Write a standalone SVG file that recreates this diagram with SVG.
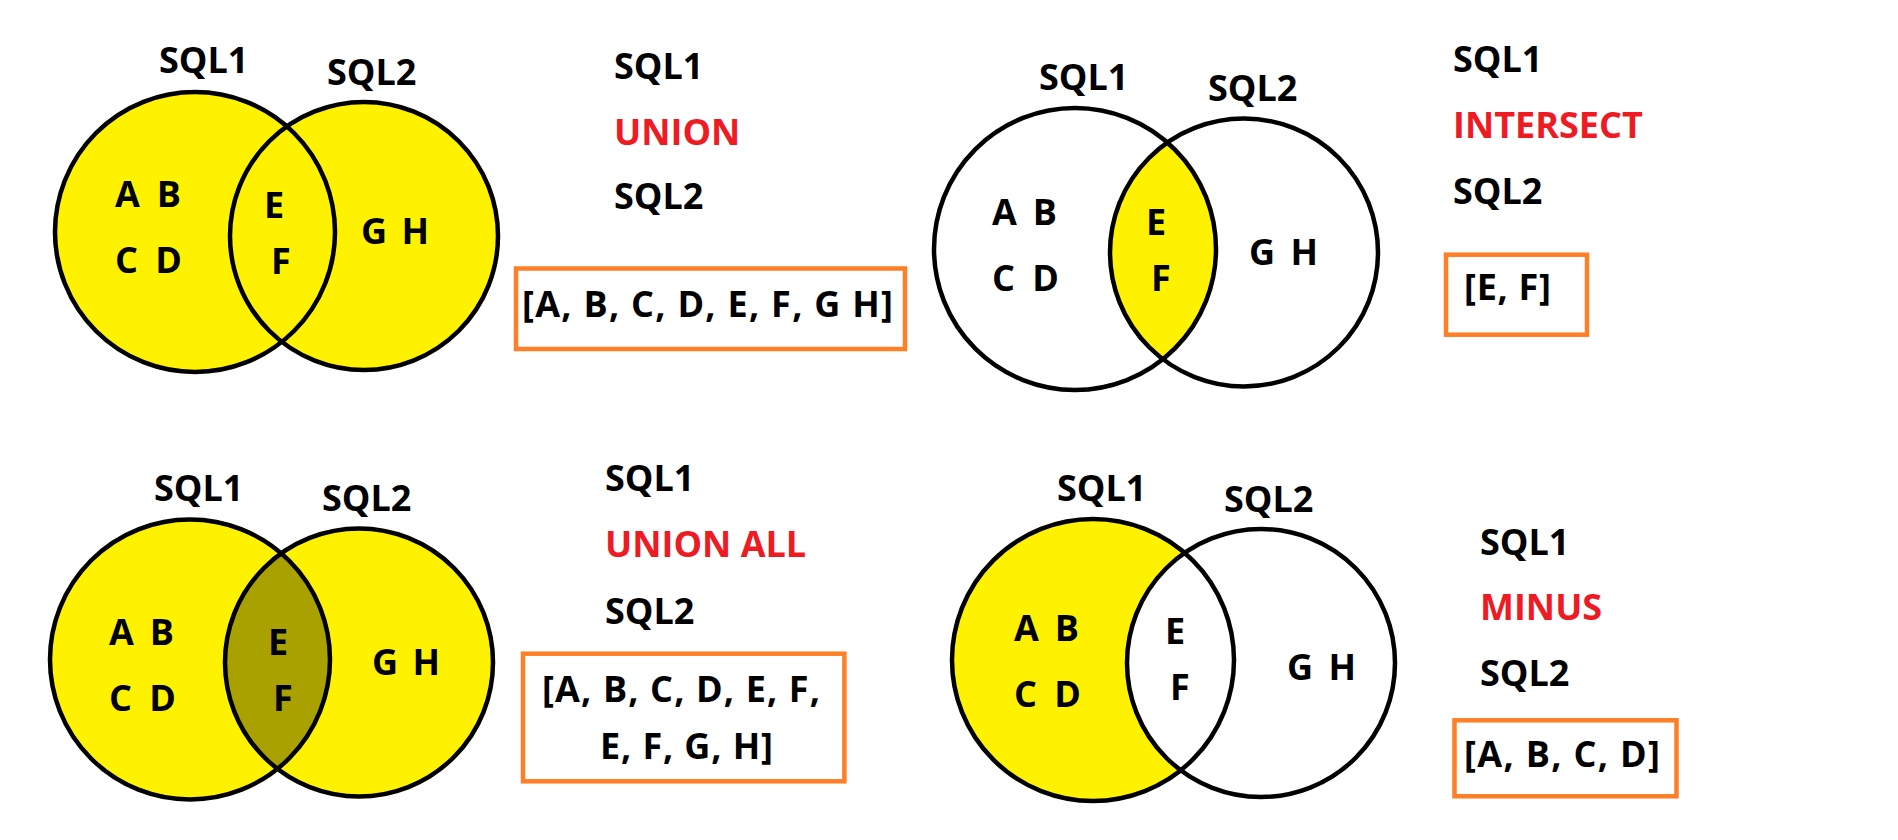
<svg xmlns="http://www.w3.org/2000/svg" width="1898" height="840" viewBox="0 0 1898 840">
  <style>
    text { font-family: "Open Sans", "Noto Sans", "Liberation Sans", sans-serif; font-weight: 700; font-size: 36px; fill: #000; }
    .red { fill: #ED1C24; }
    .ring { fill: none; stroke: #000; stroke-width: 4.5; }
    .yel { fill: #FFF200; }
    .wht { fill: #FFFFFF; }
    .olive { fill: #A9A100; }
    .box { fill: none; stroke: #FF7F27; stroke-width: 4.5; }
  </style>
  <defs>
    <clipPath id="clipQ2"><circle cx="1075" cy="249" r="141"/></clipPath>
    <clipPath id="clipQ3"><circle cx="190" cy="659.5" r="140"/></clipPath>
  </defs>
  <rect width="1898" height="840" fill="#FFFFFF"/>

  <!-- UNION -->
  <g id="venn-union">
    <circle class="yel" cx="195" cy="232" r="140"/>
    <circle class="yel" cx="364" cy="236" r="134"/>
    <circle class="ring" cx="195" cy="232" r="140"/>
    <circle class="ring" cx="364" cy="236" r="134"/>
    <text x="159" y="73">SQL1</text>
    <text x="327" y="85">SQL2</text>
    <text x="115" y="207" textLength="66" lengthAdjust="spacing">A B</text>
    <text x="115" y="273" textLength="67" lengthAdjust="spacing">C D</text>
    <text x="264" y="218">E</text>
    <text x="271" y="274">F</text>
    <text x="361" y="244" textLength="68" lengthAdjust="spacing">G H</text>
  </g>
  <g id="query-union">
    <text x="614" y="79">SQL1</text>
    <text class="red" x="614" y="145">UNION</text>
    <text x="614" y="209">SQL2</text>
  </g>
  <g id="result-union">
    <rect class="box" x="516" y="268.5" width="389" height="80.5"/>
    <text x="522" y="317" textLength="371" lengthAdjust="spacing">[A, B, C, D, E, F, G H]</text>
  </g>

  <!-- INTERSECT -->
  <g id="venn-intersect">
    <circle class="wht" cx="1075" cy="249" r="141"/>
    <circle class="wht" cx="1244" cy="252.5" r="134"/>
    <circle class="yel" cx="1244" cy="252.5" r="134" clip-path="url(#clipQ2)"/>
    <circle class="ring" cx="1075" cy="249" r="141"/>
    <circle class="ring" cx="1244" cy="252.5" r="134"/>
    <text x="1039" y="90">SQL1</text>
    <text x="1208" y="101">SQL2</text>
    <text x="992" y="225" textLength="65" lengthAdjust="spacing">A B</text>
    <text x="992" y="291" textLength="67" lengthAdjust="spacing">C D</text>
    <text x="1146" y="235">E</text>
    <text x="1151" y="291">F</text>
    <text x="1249" y="265" textLength="69" lengthAdjust="spacing">G H</text>
  </g>
  <g id="query-intersect">
    <text x="1453" y="72">SQL1</text>
    <text class="red" x="1453" y="138">INTERSECT</text>
    <text x="1453" y="204">SQL2</text>
  </g>
  <g id="result-intersect">
    <rect class="box" x="1446" y="254.7" width="141" height="80"/>
    <text x="1464" y="300" textLength="87" lengthAdjust="spacing">[E, F]</text>
  </g>

  <!-- UNION ALL -->
  <g id="venn-union-all">
    <circle class="yel" cx="190" cy="659.5" r="140"/>
    <circle class="yel" cx="359" cy="662.5" r="134"/>
    <circle class="olive" cx="359" cy="662.5" r="134" clip-path="url(#clipQ3)"/>
    <circle class="ring" cx="190" cy="659.5" r="140"/>
    <circle class="ring" cx="359" cy="662.5" r="134"/>
    <text x="154" y="501">SQL1</text>
    <text x="322" y="511">SQL2</text>
    <text x="109" y="645" textLength="65" lengthAdjust="spacing">A B</text>
    <text x="109" y="711" textLength="67" lengthAdjust="spacing">C D</text>
    <text x="268" y="655">E</text>
    <text x="273" y="711">F</text>
    <text x="372" y="675" textLength="68" lengthAdjust="spacing">G H</text>
  </g>
  <g id="query-union-all">
    <text x="605" y="491">SQL1</text>
    <text class="red" x="605" y="557">UNION ALL</text>
    <text x="605" y="624">SQL2</text>
  </g>
  <g id="result-union-all">
    <rect class="box" x="523" y="653.7" width="321.4" height="127.6"/>
    <text x="542" y="702" textLength="278" lengthAdjust="spacing">[A, B, C, D, E, F,</text>
    <text x="600" y="759" textLength="173" lengthAdjust="spacing">E, F, G, H]</text>
  </g>

  <!-- MINUS -->
  <g id="venn-minus">
    <circle class="yel" cx="1093" cy="660" r="141"/>
    <circle class="wht" cx="1261" cy="663" r="134"/>
    <circle class="ring" cx="1093" cy="660" r="141"/>
    <circle class="ring" cx="1261" cy="663" r="134"/>
    <text x="1057" y="501">SQL1</text>
    <text x="1224" y="512">SQL2</text>
    <text x="1014" y="641" textLength="65" lengthAdjust="spacing">A B</text>
    <text x="1014" y="707" textLength="67" lengthAdjust="spacing">C D</text>
    <text x="1165" y="644">E</text>
    <text x="1170" y="700">F</text>
    <text x="1287" y="680" textLength="69" lengthAdjust="spacing">G H</text>
  </g>
  <g id="query-minus">
    <text x="1480" y="555">SQL1</text>
    <text class="red" x="1480" y="620">MINUS</text>
    <text x="1480" y="686">SQL2</text>
  </g>
  <g id="result-minus">
    <rect class="box" x="1454.5" y="720.3" width="222" height="76"/>
    <text x="1464" y="767" textLength="196" lengthAdjust="spacing">[A, B, C, D]</text>
  </g>

  <g id="connectors"/>
</svg>
